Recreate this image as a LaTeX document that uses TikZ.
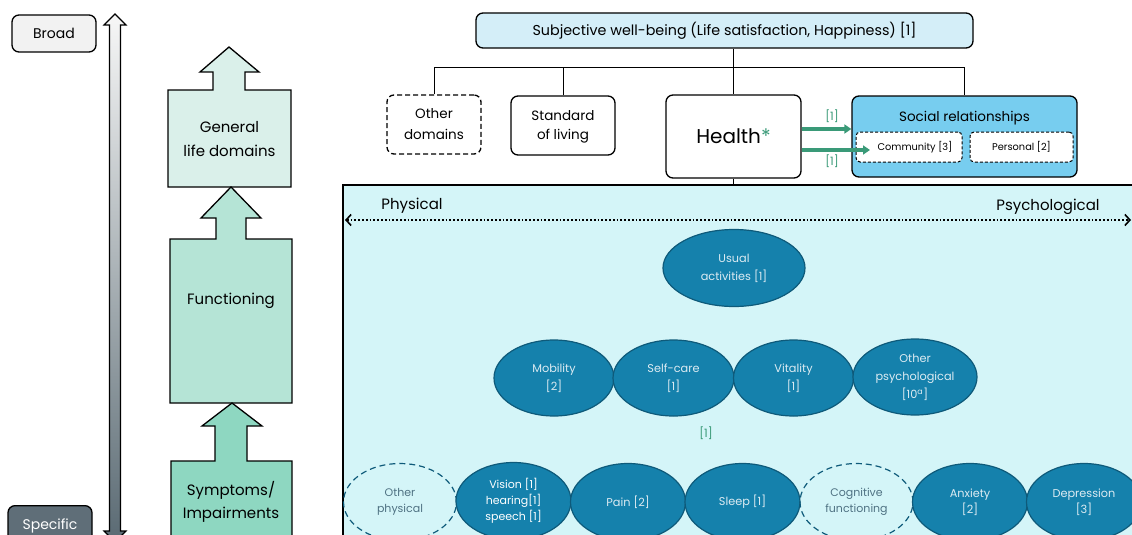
\documentclass[tikz,border=0pt]{standalone}
\usepackage{fontspec}
\setmainfont{Poppins}
\usetikzlibrary{shapes.geometric,arrows.meta}
\definecolor{broadfill}{HTML}{F2F2F2}
\definecolor{specfill}{HTML}{5F6E78}
\definecolor{genfill}{HTML}{DAF0EA}
\definecolor{funcfill}{HTML}{B5E4D6}
\definecolor{sympfill}{HTML}{8ED7C1}
\definecolor{topblue}{HTML}{D4EEF8}
\definecolor{socialblue}{HTML}{77CDEF}
\definecolor{panelfill}{HTML}{D4F5F8}
\definecolor{ellfill}{HTML}{1581AC}
\definecolor{ellborder}{HTML}{0E5A7A}
\definecolor{elltext}{HTML}{DCEBF2}
\definecolor{dashtext}{HTML}{4F7283}
\definecolor{refgreen}{HTML}{3A9A78}
\definecolor{shadetop}{HTML}{F7F7F7}
\definecolor{shadebot}{HTML}{5A6A73}
\newcommand{\setfs}[2]{\fontsize{#1}{#2}\selectfont}
\begin{document}
\begin{tikzpicture}[x=1pt,y=-1pt,
  fs/.style 2 args={font=\setfs{#1}{#2}},
  rbox/.style={draw, rounded corners=7pt, line width=1.3pt, align=center, inner sep=0pt},
  dbox/.style={rbox, dash pattern=on 5pt off 3pt},
  innerbox/.style={draw, dash pattern=on 3pt off 2pt, rounded corners=4pt, line width=1pt, fill=white, inner sep=0pt, align=center, minimum width=106pt, minimum height=30pt, fs={9.8}{12}},
  ell/.style={ellipse, draw=ellborder, fill=ellfill, text=elltext, line width=1.2pt, inner sep=0pt, align=center, fs={11.3}{18}},
  dell/.style={ellipse, draw=ellborder, dash pattern=on 6pt off 4pt, line width=1.2pt, text=dashtext, inner sep=0pt, align=center, fs={11}{16}},
  blockarrow/.style={draw, line width=1.3pt, line join=miter},
  greenarrow/.style={refgreen, line width=3.5pt, -{Triangle[length=7pt,width=9pt]}},
  greenlabel/.style={text=refgreen, fs={11.5}{14}, inner sep=0pt},
  tree/.style={line width=1pt}
]
\useasboundingbox (0,0) rectangle (1132,535);
\clip (0,0) rectangle (1132,535);

% ---------- left scale ----------
\node[rbox, fill=broadfill, minimum width=84pt, minimum height=37pt, fs={14}{17}] (broad) at (54,33.5) {Broad};
\node[rbox, fill=specfill, text=white, minimum width=84pt, minimum height=40pt, fs={14}{17}, anchor=north] (specific) at (50,505) {\raisebox{-1pt}{Specific}};
\shade[top color=shadetop, bottom color=shadebot, draw=black, line width=1.2pt]
  (115,14) -- (126,25) -- (120.5,25) -- (120.5,531) -- (126,531) -- (115,542)
  -- (104,531) -- (109.5,531) -- (109.5,25) -- (104,25) -- cycle;

% ---------- block arrows ----------
\filldraw[blockarrow, fill=genfill]
  (168,187) -- (291,187) -- (291,90) -- (245,90) -- (245,72) -- (259,72) -- (229,47)
  -- (200,72) -- (213,72) -- (213,90) -- (168,90) -- cycle;
\filldraw[blockarrow, fill=funcfill]
  (170,403) -- (292,403) -- (292,239) -- (246,239) -- (246,218) -- (261,218) -- (231,187)
  -- (201,218) -- (216,218) -- (216,239) -- (170,239) -- cycle;
\filldraw[blockarrow, fill=sympfill]
  (171,545) -- (292,545) -- (292,461) -- (247,461) -- (247,426) -- (262,426) -- (232,403)
  -- (202,426) -- (215,426) -- (215,461) -- (171,461) -- cycle;
\node[fs={15}{24}, align=center] (general) at (229.5,139) {General\\life domains};
\node[fs={15}{24}] (functioning) at (231,301) {Functioning};
\node[fs={15}{23}, align=center] (symptoms) at (231,501.5) {Symptoms/\\Impairments};

% ---------- top hierarchy ----------
\node[rbox, fill=topblue, minimum width=497pt, minimum height=35pt, fs={14.3}{17}] (swb) at (724.5,30.5)
  {Subjective well-being (Life satisfaction, Happiness) [1]};
\node[dbox, minimum width=94pt, minimum height=59pt, fs={13.5}{21}] (otherdom) at (434,124.5) {Other\\domains};
\node[rbox, minimum width=104pt, minimum height=59pt, fs={13.5}{22}] (standard) at (563,125.5) {\raisebox{-2pt}{\begin{tabular}{@{}c@{}}Standard\\[-3pt]of living\end{tabular}}};
\node[rbox, minimum width=135pt, minimum height=83pt, fs={20}{24}] (health) at (733.5,136.5) {Health{\color{refgreen}*}};
\node[rbox, fill=socialblue, minimum width=225pt, minimum height=81pt] (social) at (964.5,136.5) {};
\node[fs={13.5}{16}] (socialtitle) at (964.5,118) {Social relationships};
\node[innerbox] (community) at (909,147) {\hspace*{12pt}Community [3]};
\node[innerbox, minimum width=103pt] (personal) at (1021.5,147) {Personal [2]};

\coordinate (bar) at (0,68);
\draw[tree] (otherdom.north) -- (otherdom.north |- bar) -| (social.north);
\draw[tree] (standard.north) -- (standard.north |- bar);
\draw[tree] (health.north |- swb.south) -- (health.north);

% green arrows
\draw[greenarrow] (health.east |- 0,129) -- (social.west |- 0,129);
\draw[greenarrow] (health.east |- 0,150) -- (870,150);
\node[greenlabel] (g1) at (832,116.5) {[1]};
\node[greenlabel] (g2) at (832,161) {[1]};

% ---------- panel ----------
\node[draw, fill=panelfill, line width=1.5pt, minimum width=800pt, minimum height=370pt, anchor=north west, inner sep=0pt] (panel) at (342,184) {};
\draw[tree] (health.south) -- (health.south |- panel.north);

\coordinate (pleft) at (345,220);
\coordinate (pright) at (1131,220);
\draw[line width=1.8pt, dash pattern=on 1.8pt off 2pt, {Straight Barb[length=5pt,width=11pt,line width=1.6pt]}-{Straight Barb[length=5pt,width=11pt,line width=1.6pt]}] (pleft) -- (pright);
\node[fs={15}{18}] (physical) at (412,206) {Physical};
\node[fs={15}{18}] (psych) at (1048,207) {Psychological};

% ellipses
\node[ell, minimum width=142pt, minimum height=77pt] (usual) at (734,268) {Usual\\activities [1]};
\node[ell, minimum width=120pt, minimum height=76pt] (mobility) at (554,378) {Mobility\\{}[2]};
\node[ell, minimum width=121pt, minimum height=76pt] (selfcare) at (673.5,378) {Self-care\\{}[1]};
\node[ell, minimum width=120pt, minimum height=76pt] (vitality) at (793.5,378) {Vitality\\{}[1]};
\node[ell, minimum width=124pt, minimum height=76pt] (otherpsy) at (915,377) {Other\\psychological\\{}[10\textsuperscript{a}]};
\node[greenlabel] (g3) at (706,433) {[1]};

\node[dell, minimum width=113pt, minimum height=77pt] (otherphys) at (400,502) {Other\\physical};
\node[ell, minimum width=115pt, minimum height=77pt, text=white, fs={11}{16}] (vision) at (513.5,501) {Vision [1]\\hearing[1]\\speech [1]};
\node[ell, minimum width=115pt, minimum height=77pt] (pain) at (628,502) {Pain [2]};
\node[ell, minimum width=115pt, minimum height=77pt] (sleep) at (742.5,502) {Sleep [1]};
\node[dell, minimum width=113pt, minimum height=77pt] (cognitive) at (856.5,502) {Cognitive\\functioning};
\node[ell, minimum width=115pt, minimum height=77pt, fs={11.3}{16}] (anxiety) at (970,502) {Anxiety\\{}[2]};
\node[ell, minimum width=115pt, minimum height=77pt, fs={11.3}{16}] (depression) at (1084,502) {Depression\\{}[3]};
\end{tikzpicture}
\end{document}
